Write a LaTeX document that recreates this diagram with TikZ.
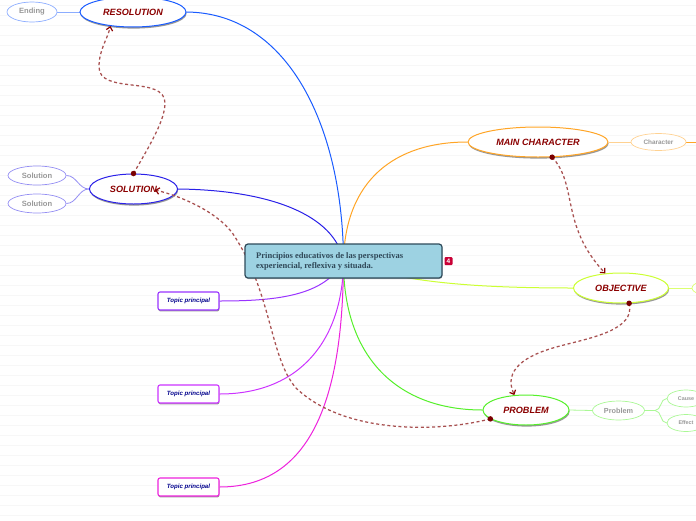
\documentclass[tikz,border=0pt]{standalone}
\usepackage{fontspec}
\setmainfont{Liberation Sans}
\newfontfamily\titlefont{Liberation Serif}
\usetikzlibrary{shapes.geometric,shadows,arrows.meta,backgrounds}

\definecolor{linkred}{HTML}{A85050}
\definecolor{dotred}{HTML}{7A0000}
\definecolor{topicred}{HTML}{8B0000}
\definecolor{resolutionblue}{HTML}{1A5CFF}
\definecolor{solutionblue}{HTML}{2A20E8}
\definecolor{characterorange}{HTML}{FFA526}
\definecolor{objectivelime}{HTML}{CCFF33}
\definecolor{problemgreen}{HTML}{55F02A}
\definecolor{principalviolet}{HTML}{9933FF}
\definecolor{principalpurple}{HTML}{CC33FF}
\definecolor{principalpink}{HTML}{EE22DD}
\definecolor{centralfill}{HTML}{9DD2E2}
\definecolor{centraldraw}{HTML}{2E4A5A}
\definecolor{centraltext}{HTML}{2F4858}

\tikzset{
  topic/.style={ellipse, draw=#1, fill=white, line width=1pt, inner sep=0pt,
    text=topicred, font=\bfseries\itshape\fontsize{9.1}{10}\selectfont,
    drop shadow={shadow xshift=0.6pt, shadow yshift=-1.6pt, fill=black!80}},
  subtopic/.style={ellipse, draw=#1, fill=white, line width=0.7pt, inner sep=0pt,
    text=black!40, font=\bfseries\fontsize{7.6}{8}\selectfont},
  principal/.style={rectangle, rounded corners=2pt, draw=#1, fill=white, line width=1.1pt,
    minimum width=61pt, minimum height=18pt, inner sep=0pt, text=blue!55!black,
    font=\bfseries\itshape\fontsize{6.1}{7}\selectfont,
    drop shadow={shadow xshift=0.4pt, shadow yshift=-1.4pt, fill=black!80}},
  branch/.style={line width=1pt, draw=#1},
  twig/.style={line width=0.8pt, draw=#1},
  relation/.style={draw=linkred, line width=1.25pt, dash pattern=on 3pt off 2.6pt,
    -{Straight Barb[length=3.5pt,width=6.5pt,color=topicred,line width=1.2pt]}},
  relationdot/.style={circle, fill=dotred, minimum size=5.5pt, inner sep=0pt},
}

\begin{document}
\begin{tikzpicture}[x=1pt, y=-1pt]
  \useasboundingbox (0, 0) rectangle (696, 520);

  % topics
  \node[topic=resolutionblue, minimum width=106pt, minimum height=30pt] (resolution) at (133, 12) {RESOLUTION};
  \node[topic=solutionblue, minimum width=88pt, minimum height=30pt] (solution) at (133.5, 189) {SOLUTION};
  \node[topic=characterorange, minimum width=140pt, minimum height=30pt] (maincharacter) at (538, 142) {MAIN CHARACTER};
  \node[topic=objectivelime, minimum width=95pt, minimum height=30pt] (objective) at (621, 288) {OBJECTIVE};
  \node[topic=problemgreen, minimum width=86pt, minimum height=30pt] (problem) at (526, 410) {PROBLEM};

  % subtopics
  \node[subtopic=resolutionblue!50, minimum width=50pt, minimum height=20pt] (ending) at (32, 12) {Ending};
  \node[subtopic=solutionblue!50, minimum width=58pt, minimum height=19pt] (solutiona) at (37, 175.5) {Solution};
  \node[subtopic=solutionblue!50, minimum width=58pt, minimum height=19pt] (solutionb) at (37, 203.5) {Solution};
  \node[subtopic=characterorange!50, minimum width=55pt, minimum height=17pt, font=\bfseries\fontsize{6.4}{7}\selectfont] (character) at (658.5, 142) {Character};
  \node[subtopic=objectivelime!70, minimum width=56pt, minimum height=18pt] (objectiveleaf) at (720, 288) {};
  \node[subtopic=problemgreen!50, minimum width=52pt, minimum height=19pt, font=\bfseries\fontsize{7.3}{8}\selectfont] (problemleaf) at (618.5, 410.5) {Problem};
  \node[subtopic=problemgreen!50, minimum width=38pt, minimum height=17pt, font=\bfseries\fontsize{5.4}{7}\selectfont] (cause) at (686, 398.5) {Cause};
  \node[subtopic=problemgreen!50, minimum width=38pt, minimum height=17pt, font=\bfseries\fontsize{5.4}{7}\selectfont] (effect) at (686, 423) {Effect};

  % main topics on the left
  \node[principal=principalviolet] (principala) at (188.5, 301) {Topic principal};
  \node[principal=principalpurple] (principalb) at (188.5, 394) {Topic principal};
  \node[principal=principalpink] (principalc) at (188.5, 487) {Topic principal};

  \coordinate (solutionend) at (155, 190);
  \coordinate (characteredge) at (696, 142);

  % relations
  \draw[relation] (solution.north) .. controls (150, 145) and (165, 120) .. (165, 103)
    .. controls (165, 75) and (99, 95) .. (99, 67)
    .. controls (99, 50) and (107, 40) .. (resolution.212);
  \draw[relation] (maincharacter.313) .. controls (578, 185) and (560, 225) .. (objective.137);
  \draw[relation] (objective.298) .. controls (636, 330) and (590, 338) .. (560, 346)
    .. controls (525, 355) and (503, 370) .. (problem.128);
  \draw[relation] (problem.194) .. controls (440, 432) and (345, 435) .. (296, 388)
    .. controls (270, 358) and (272, 295) .. (235, 237)
    .. controls (222, 215) and (185, 197) .. (solutionend);

  \node[relationdot] (dotsolution) at (solution.north) {};
  \node[relationdot] (dotcharacter) at (maincharacter.313) {};
  \node[relationdot] (dotobjective) at (objective.298) {};
  \node[relationdot] (dotproblem) at (problem.194) {};

  % central idea
  \node[rectangle, rounded corners=3pt, draw=centraldraw, fill=centralfill, line width=1.2pt,
    minimum width=197pt, minimum height=34pt,
    drop shadow={shadow xshift=0.4pt, shadow yshift=-1pt, fill=black!60}] (central) at (343.5, 261) {};
  \node[anchor=west, align=left, text=centraltext, inner sep=0pt,
    font=\titlefont\bfseries\fontsize{8.5}{9.5}\selectfont] (centrallabel) at (256, 261.5)
    {Principios educativos de las perspectivas\\experiencial, reflexiva y situada.};
  \node[rectangle, rounded corners=1pt, fill=purple!85!red, text=white, minimum size=8pt, inner sep=0pt,
    font=\bfseries\fontsize{6.5}{7}\selectfont] (badge) at (448.5, 261) {4};

  \begin{scope}[on background layer]
    \fill[white] (0, 0) rectangle (696, 520);
    \foreach \ypos in {5, 15, ..., 515} {
      \draw[black!3, line width=0.6pt] (0, \ypos) -- (696, \ypos);
    }

    % branches
    \draw[branch=resolutionblue] (central.center) .. controls (343, 130) and (290, 13) .. (resolution.east);
    \draw[branch=solutionblue] (central.center) .. controls (335, 215) and (270, 190) .. (solution.east);
    \draw[branch=principalviolet] (central.center) .. controls (325, 295) and (280, 301) .. (principala.east);
    \draw[branch=principalpurple] (central.center) .. controls (343, 340) and (300, 394) .. (principalb.east);
    \draw[branch=principalpink] (central.center) .. controls (343, 380) and (320, 487) .. (principalc.east);
    \draw[branch=characterorange] (central.center) .. controls (345, 180) and (395, 142) .. (maincharacter.west);
    \draw[branch=objectivelime] (central.center) .. controls (400, 283) and (480, 288) .. (objective.west);
    \draw[branch=problemgreen] (central.center) .. controls (343, 360) and (400, 410) .. (problem.west);

    % twigs
    \draw[twig=resolutionblue!50] (resolution.west) -- (ending.east);
    \draw[twig=solutionblue!50] (solution.west) to[out=180, in=0] (solutiona.east);
    \draw[twig=solutionblue!50] (solution.west) to[out=180, in=0] (solutionb.east);
    \draw[twig=characterorange!50] (maincharacter.east) -- (character.west);
    \draw[twig=characterorange] (character.east) -- (characteredge);
    \draw[twig=objectivelime!70] (objective.east) -- (objectiveleaf.west);
    \draw[twig=problemgreen!50] (problem.east) -- (problemleaf.west);
    \draw[twig=problemgreen!50] (problemleaf.east) -- (655, 410.5) to[out=0, in=180] (cause.west);
    \draw[twig=problemgreen!50] (problemleaf.east) -- (655, 410.5) to[out=0, in=180] (effect.west);
  \end{scope}
\end{tikzpicture}
\end{document}
